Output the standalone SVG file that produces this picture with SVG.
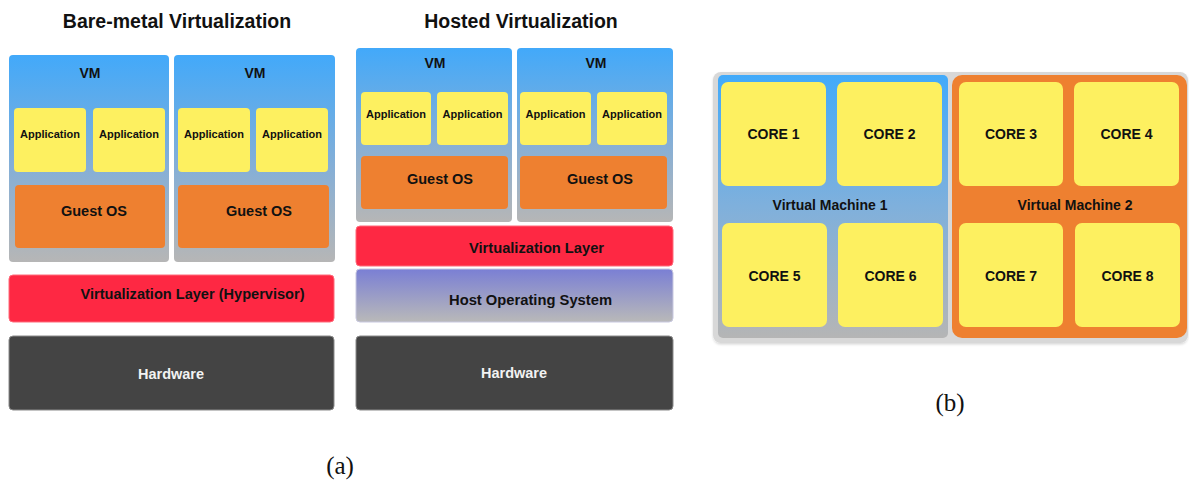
<svg xmlns="http://www.w3.org/2000/svg" width="1189" height="482" viewBox="0 0 1189 482">
<style>
text{font-family:"Liberation Sans",Arial,sans-serif;font-weight:bold;text-anchor:middle;fill:#111}
.title{font-size:19.5px}
.vm{font-size:14px}
.app{font-size:11px}
.os{font-size:14.5px}
.lay{font-size:14.5px}
.hw{font-size:14.5px;fill:#f2f2f2}
.core{font-size:14px}
.cap{font-family:"Liberation Serif","Times New Roman",serif;font-weight:normal;font-size:25px;fill:#111}
.vmbox{fill:url(#vmg)}
.appbox{fill:#fdf060}
.osbox{fill:#ee8030}
.red{fill:#fe2843;stroke:#ff6a7a;stroke-width:1}
.hwbox{fill:#444;stroke:#8a8a8a;stroke-width:1}
.corebox{fill:#fdf060}
</style>
<defs>
<linearGradient id="vmg" x1="0" y1="0" x2="0" y2="1">
<stop offset="0" stop-color="#42a9fa"/>
<stop offset="0.55" stop-color="#86afd6"/>
<stop offset="1" stop-color="#b6b6b6"/>
</linearGradient>
<linearGradient id="hostg" x1="0" y1="0" x2="0" y2="1">
<stop offset="0" stop-color="#7a7fd4"/>
<stop offset="1" stop-color="#b9b9b9"/>
</linearGradient>
<linearGradient id="vm1g" x1="0" y1="0" x2="0" y2="1">
<stop offset="0" stop-color="#42aafa"/>
<stop offset="0.5" stop-color="#7fb0dc"/>
<stop offset="1" stop-color="#b5b5b5"/>
</linearGradient>
<filter id="sh" x="-5%" y="-5%" width="110%" height="115%">
<feDropShadow dx="0" dy="1.5" stdDeviation="1.2" flood-color="#000" flood-opacity="0.15"/>
</filter>
</defs>

<!-- Bare-metal -->
<text class="title" x="177" y="28">Bare-metal Virtualization</text>
<g id="bm-vm1">
<rect class="vmbox" x="9" y="55" width="160" height="207" rx="4"/>
<text class="vm" x="90" y="78">VM</text>
<rect class="appbox" x="14" y="108" width="72" height="64" rx="4"/>
<text class="app" x="50" y="138">Application</text>
<rect class="appbox" x="93" y="108" width="72" height="64" rx="4"/>
<text class="app" x="129" y="138">Application</text>
<rect class="osbox" x="15" y="185" width="150" height="63" rx="4"/>
<text class="os" x="94" y="216">Guest OS</text>
</g>
<g id="bm-vm2">
<rect class="vmbox" x="174" y="55" width="161" height="207" rx="4"/>
<text class="vm" x="255" y="78">VM</text>
<rect class="appbox" x="178" y="108" width="72" height="64" rx="4"/>
<text class="app" x="214" y="138">Application</text>
<rect class="appbox" x="256" y="108" width="72" height="64" rx="4"/>
<text class="app" x="292" y="138">Application</text>
<rect class="osbox" x="178" y="185" width="151" height="63" rx="4"/>
<text class="os" x="259" y="216">Guest OS</text>
</g>
<g id="bm-hyp">
<rect class="red" x="9" y="275" width="325" height="47" rx="4"/>
<text class="lay" x="192.5" y="298.5" textLength="224" lengthAdjust="spacingAndGlyphs">Virtualization Layer (Hypervisor)</text>
</g>
<g id="bm-hw">
<rect class="hwbox" x="9" y="336" width="325" height="74" rx="4"/>
<text class="hw" x="171" y="379" textLength="66" lengthAdjust="spacingAndGlyphs">Hardware</text>
</g>

<!-- Hosted -->
<text class="title" x="521" y="28">Hosted Virtualization</text>
<g id="h-vm1">
<rect class="vmbox" x="356" y="48" width="156" height="174" rx="4"/>
<text class="vm" x="435" y="68">VM</text>
<rect class="appbox" x="361" y="92" width="70" height="53" rx="4"/>
<text class="app" x="396" y="118">Application</text>
<rect class="appbox" x="437" y="92" width="71" height="53" rx="4"/>
<text class="app" x="472.5" y="118">Application</text>
<rect class="osbox" x="361" y="156" width="147" height="53" rx="4"/>
<text class="os" x="440" y="184">Guest OS</text>
</g>
<g id="h-vm2">
<rect class="vmbox" x="517" y="48" width="156" height="174" rx="4"/>
<text class="vm" x="596" y="68">VM</text>
<rect class="appbox" x="520" y="92" width="71" height="53" rx="4"/>
<text class="app" x="555.5" y="118">Application</text>
<rect class="appbox" x="597" y="92" width="70" height="53" rx="4"/>
<text class="app" x="632" y="118">Application</text>
<rect class="osbox" x="520" y="156" width="147" height="53" rx="4"/>
<text class="os" x="600" y="184">Guest OS</text>
</g>
<g id="h-virt">
<rect class="red" x="356" y="226" width="317" height="40" rx="4"/>
<text class="lay" x="536.5" y="253" textLength="135" lengthAdjust="spacingAndGlyphs">Virtualization Layer</text>
</g>
<g id="h-host">
<rect x="356" y="269" width="317" height="53" rx="4" fill="url(#hostg)" stroke="#c8c8e0" stroke-width="1"/>
<text class="lay" x="530.5" y="305" textLength="163" lengthAdjust="spacingAndGlyphs">Host Operating System</text>
</g>
<g id="h-hw">
<rect class="hwbox" x="356" y="336" width="317" height="74" rx="4"/>
<text class="hw" x="514" y="378" textLength="66" lengthAdjust="spacingAndGlyphs">Hardware</text>
</g>
<text class="cap" x="340" y="474">(a)</text>

<!-- (b) -->
<g id="b-outer">
<rect x="713" y="72" width="475" height="271" rx="8" fill="#d8d8d8" filter="url(#sh)"/>
</g>
<g id="b-vm1">
<rect x="718" y="75" width="230" height="263" rx="5" fill="url(#vm1g)"/>
<rect class="corebox" x="721" y="82" width="105" height="104" rx="7"/>
<text class="core" x="773.5" y="139">CORE 1</text>
<rect class="corebox" x="837" y="82" width="105" height="104" rx="7"/>
<text class="core" x="889.5" y="139">CORE 2</text>
<text class="core" x="830" y="210">Virtual Machine 1</text>
<rect class="corebox" x="722" y="223" width="105" height="104" rx="7"/>
<text class="core" x="774.5" y="281">CORE 5</text>
<rect class="corebox" x="838" y="223" width="105" height="104" rx="7"/>
<text class="core" x="890.5" y="281">CORE 6</text>
</g>
<g id="b-vm2">
<rect x="952" y="75" width="235" height="263" rx="10" fill="#ee8030"/>
<rect class="corebox" x="959" y="82" width="104" height="104" rx="7"/>
<text class="core" x="1011" y="139">CORE 3</text>
<rect class="corebox" x="1074" y="82" width="105" height="104" rx="7"/>
<text class="core" x="1126.5" y="139">CORE 4</text>
<text class="core" x="1075" y="210">Virtual Machine 2</text>
<rect class="corebox" x="959" y="223" width="104" height="104" rx="7"/>
<text class="core" x="1011" y="281">CORE 7</text>
<rect class="corebox" x="1075" y="223" width="105" height="104" rx="7"/>
<text class="core" x="1127.5" y="281">CORE 8</text>
</g>
<text class="cap" x="950" y="411">(b)</text>
</svg>
